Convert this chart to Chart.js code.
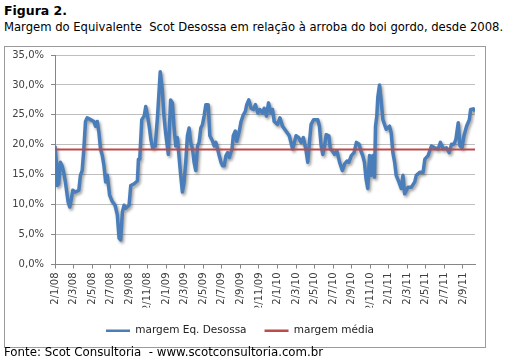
<!DOCTYPE html>
<html><head><meta charset="utf-8">
<script src="https://cdn.jsdelivr.net/npm/chart.js@4/dist/chart.umd.min.js"></script>
<style>
body{margin:0;background:#fff;font-family:"DejaVu Sans",sans-serif;color:#000;width:512px;height:361px;overflow:hidden;position:relative;}
#t1{position:absolute;left:4px;top:3px;font-weight:bold;font-size:12.5px;white-space:nowrap;}
#t2{position:absolute;left:4px;top:20px;font-size:11.6px;white-space:nowrap;}
#box{position:absolute;left:4px;top:46px;width:480px;height:300px;border:1px solid #9a9a9a;}
#cv{position:absolute;left:5px;top:42px;}
#foot{position:absolute;left:4px;top:345px;font-size:11.8px;white-space:nowrap;}
</style></head>
<body>
<div id="t1">Figura 2.</div>
<div id="t2">Margem do Equivalente&nbsp; Scot Desossa em relação à arroba do boi gordo, desde 2008.</div>
<div id="box"></div>
<canvas id="cv" width="480" height="308"></canvas>
<div id="foot">Fonte: Scot Consultoria&nbsp; - www.scotconsultoria.com.br</div>
<script>
// months elapsed since 2/1/08 (x position of each reading)
const meses = [0.0,0.18,0.22,0.40,0.57,0.76,0.94,1.12,1.41,1.59,1.77,1.92,2.20,2.57,2.74,2.93,3.11,3.29,3.47,3.83,4.20,4.37,4.56,4.74,4.91,5.10,5.28,5.46,5.64,5.89,6.18,6.48,6.72,6.91,7.08,7.27,7.45,7.62,7.99,8.17,8.54,8.89,9.00,9.14,9.36,9.62,9.79,9.98,10.16,10.34,10.52,10.81,11.06,11.35,11.57,11.75,11.93,12.22,12.47,12.66,12.83,13.02,13.20,13.37,13.56,13.74,13.92,14.10,14.28,14.46,14.64,14.83,15.00,15.18,15.37,15.54,15.73,15.91,16.08,16.27,16.52,16.70,17.00,17.17,17.35,17.54,17.71,17.90,18.08,18.25,18.44,18.62,18.80,19.09,19.23,19.45,19.60,19.88,20.07,20.31,20.53,20.68,20.90,21.15,21.40,21.62,21.88,22.10,22.38,22.56,22.81,23.03,23.29,23.46,23.64,24.00,24.26,24.54,24.91,25.27,25.63,26.00,26.28,26.54,26.79,27.08,27.26,27.44,27.62,27.90,28.34,28.52,28.71,28.88,29.07,29.25,29.53,29.69,29.90,30.15,30.40,30.69,30.99,31.24,31.49,31.70,31.96,32.25,32.51,32.79,33.05,33.19,33.37,33.55,33.73,33.92,34.09,34.27,34.46,34.57,34.71,34.82,35.00,35.17,35.36,35.72,36.08,36.26,36.44,36.63,36.80,37.09,37.34,37.53,37.71,38.07,38.43,38.80,38.97,39.34,39.70,39.89,40.24,40.60,40.97,41.32,41.57,41.87,42.22,42.52,42.77,43.03,43.24,43.49,43.68,43.90,44.11,44.39,44.69,44.83,45.12,45.30];
// margem Eq. Desossa (%)
const margem = [19.8,16.5,13.2,13.5,17.1,16.5,15.4,13.8,10.5,9.6,11.0,12.4,12.1,12.4,14.9,15.7,19.3,23.9,24.5,24.2,23.9,23.1,23.9,22.0,19.3,18.2,16.5,13.8,14.9,11.6,10.5,9.9,8.3,4.4,4.1,8.8,9.9,9.4,9.9,13.2,13.5,14.0,17.6,17.6,24.2,24.8,26.4,24.8,23.1,20.9,19.5,19.8,24.8,32.2,29.2,24.8,22.0,18.4,27.5,27.0,23.1,19.8,21.2,18.2,14.9,12.1,13.8,17.1,21.5,22.8,20.4,19.3,17.1,15.7,19.8,20.4,22.8,23.4,24.8,26.7,26.7,21.5,20.6,19.8,20.4,19.3,18.2,17.1,16.5,16.5,18.2,18.7,17.9,19.3,21.5,22.3,20.6,22.3,23.9,25.0,25.6,26.7,27.5,26.1,25.9,26.7,25.3,25.9,25.3,26.1,24.8,27.0,25.3,25.9,23.9,23.4,24.5,23.1,22.3,21.5,19.3,21.5,21.2,20.4,21.2,19.0,17.1,20.4,23.4,24.2,24.2,23.1,19.8,18.4,19.8,21.7,21.5,19.3,19.0,18.4,19.0,17.1,15.7,16.8,17.3,17.1,18.2,18.7,20.4,20.1,18.7,18.2,17.1,14.3,12.7,18.2,14.9,18.2,14.6,23.1,24.8,28.0,30.0,27.5,24.2,22.6,23.1,22.0,18.7,17.1,14.9,13.8,12.7,14.9,11.8,12.9,12.9,13.8,14.9,15.4,15.4,17.6,18.2,19.8,19.5,19.3,20.4,19.3,19.5,18.7,20.1,20.1,20.9,23.7,19.8,19.5,21.5,23.1,24.2,25.9,26.0,25.6];
// margem média (%)
const mediaValor = 19.2;
// x-axis tick labels, one every two months
const tickLabels = ['2/1/08','2/3/08','2/5/08','2/7/08','2/9/08','2/11/08','2/1/09','2/3/09','2/5/09','2/7/09','2/9/09','2/11/09','2/1/10','2/3/10','2/5/10','2/7/10','2/9/10','2/11/10','2/1/11','2/3/11','2/5/11','2/7/11','2/9/11'];
const seriesNames = ['margem Eq. Desossa','margem média'];

const xMax = meses[meses.length-1];
const blue = '#4A7EBB', red = '#BE4B48';

const shadowPlugin = {
  id:'shadow',
  beforeDatasetDraw(chart,args){ if(args.index===0){const c=chart.ctx;c.save();c.shadowColor='rgba(0,0,0,0.38)';c.shadowBlur=3;c.shadowOffsetX=1.5;c.shadowOffsetY=2;} },
  afterDatasetDraw(chart,args){ if(args.index===0) chart.ctx.restore(); }
};

new Chart(document.getElementById('cv'), {
  type:'line',
  data:{
    datasets:[
      {label:seriesNames[0], data:meses.map((m,i)=>({x:m,y:margem[i]})), borderColor:blue, backgroundColor:blue, borderWidth:3.5, pointRadius:0, tension:0, order:1, borderJoinStyle:'round'},
      {label:seriesNames[1], data:[{x:0,y:mediaValor},{x:xMax,y:mediaValor}], borderColor:red, backgroundColor:red, borderWidth:2, pointRadius:0, order:0}
    ]
  },
  options:{
    responsive:false, animation:false,
    layout:{padding:{left:0,right:10,top:0,bottom:4}},
    plugins:{
      legend:{position:'bottom', labels:{usePointStyle:true, pointStyle:'line', pointStyleWidth:24, color:'#222', font:{family:'DejaVu Sans',size:10.5}, padding:18,
        generateLabels(chart){ return chart.data.datasets.map((d,i)=>({text:d.label, strokeStyle:d.borderColor, fillStyle:d.borderColor, lineWidth:2.5, pointStyle:'line', datasetIndex:i, hidden:false, fontColor:'#222'})); }}},
      tooltip:{enabled:false}
    },
    scales:{
      x:{type:'linear', min:0, max:xMax,
        afterBuildTicks(s){ s.ticks = tickLabels.map((_,i)=>({value:i*2})); },
        afterFit(s){ s.height = 43; },
        grid:{display:true, drawOnChartArea:false, drawTicks:true, tickLength:4, color:'#868686'},
        border:{display:true, color:'#868686'},
        ticks:{autoSkip:false, minRotation:90, maxRotation:90, padding:4, color:'#404040', font:{family:'DejaVu Sans',size:10},
          callback(v,i){ return tickLabels[i]; }}
      },
      y:{min:0, max:35,
        afterFit(s){ s.width = 50; },
        grid:{color:'#bfbfbf', drawTicks:true, tickLength:4, tickColor:'#868686'},
        border:{display:true, color:'#868686'},
        ticks:{stepSize:5, padding:7, color:'#404040', font:{family:'DejaVu Sans',size:10},
          callback(v){ return v.toFixed(1).replace('.',',')+'%'; }}
      }
    }
  },
  plugins:[shadowPlugin]
});
</script>
</body></html>
